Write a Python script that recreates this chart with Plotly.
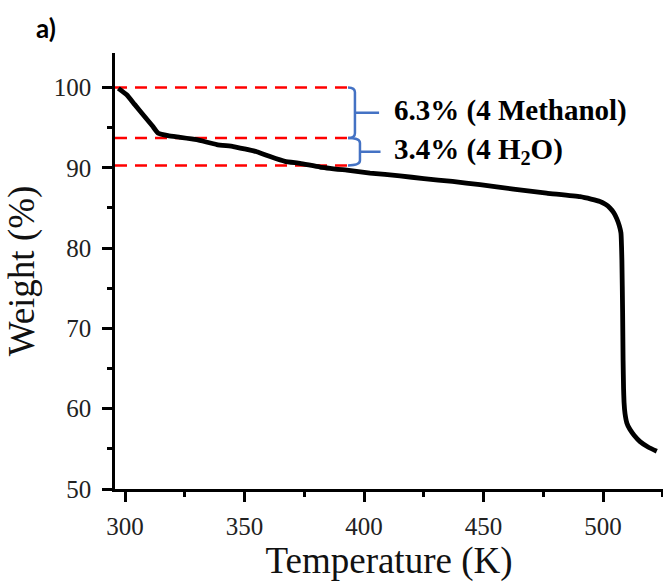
import plotly.graph_objects as go

# TGA curve: temperature (K) vs. remaining weight (%)
temperature = [297.2, 300.7, 304.0, 308.0, 311.5, 313.9, 318.0, 323.0, 330.0, 338.4,
               345.3, 350.0, 355.1, 360.7, 366.9, 373.2, 381.6, 392.8, 402.5, 415.0,
               425.0, 437.0, 448.5, 462.5, 476.4, 490.4, 495.0, 498.7, 501.0, 502.9,
               504.5, 505.7, 506.8, 507.5, 507.9, 508.2, 508.4, 508.6, 508.8, 509.2,
               510.0, 511.3, 513.0, 515.5, 519.0, 522.5]
weight = [99.9, 99.1, 97.9, 96.45, 95.2, 94.3, 94.0, 93.8, 93.5, 92.9,
          92.65, 92.35, 92.0, 91.4, 90.8, 90.55, 90.1, 89.7, 89.35, 89.0,
          88.65, 88.3, 87.9, 87.35, 86.85, 86.4, 86.1, 85.8, 85.45, 85.0,
          84.4, 83.7, 82.8, 81.9, 78.5, 72.0, 66.0, 62.5, 60.8, 59.4,
          58.2, 57.4, 56.7, 55.9, 55.2, 54.7]

# Weight-loss steps marked by dashed guide lines
step_levels = [100.0, 93.7, 90.3]
step_labels = ["6.3% (4 Methanol)", "3.4% (4 H<sub>2</sub>O)"]

x_tick_vals = [300, 350, 400, 450, 500]
y_tick_vals = [50, 60, 70, 80, 90, 100]

x_range = [295.8, 525.1]
y_range = [50.0, 104.3]

guide_end = 393.3
brace_x = [396.2, 398.3]
nib_end = [406.3, 406.9]
label_x = 411.7

SERIF = "Liberation Serif, Times New Roman, Times, serif"
SANS = "Lato, Open Sans, Liberation Sans, sans-serif"

fig = go.Figure()

# Dashed guide lines at each step level
for lv in step_levels:
    fig.add_trace(go.Scatter(
        x=[x_range[0], guide_end], y=[lv, lv], mode="lines",
        line=dict(color="#FF0000", width=2.5, dash="12px,8px"),
        hoverinfo="skip", showlegend=False))

# Main weight curve
fig.add_trace(go.Scatter(
    x=temperature, y=weight, mode="lines",
    line=dict(color="black", width=4.8, shape="spline", smoothing=0.4),
    showlegend=False))

# Brackets spanning each weight-loss step
shapes = []
ry = 0.6
for i in range(2):
    top, bot = step_levels[i], step_levels[i + 1]
    mid = (top + bot) / 2
    xv = brace_x[i]
    path = (f"M {guide_end},{top} Q {xv},{top} {xv},{top - ry} "
            f"L {xv},{bot + ry} Q {xv},{bot} {guide_end},{bot} "
            f"M {xv},{mid} L {nib_end[i]},{mid}")
    shapes.append(dict(type="path", xref="x", yref="y", path=path,
                       line=dict(color="#4472C4", width=2.5)))
    fig.add_annotation(x=label_x, y=mid + (0.25 if i == 0 else 0.1), xref="x", yref="y",
                       text=f"<b>{step_labels[i]}</b>", showarrow=False,
                       xanchor="left", yanchor="middle",
                       font=dict(family=SERIF, size=29, color="black"))

fig.add_annotation(x=-0.148, y=1.057, xref="paper", yref="paper", text="<b>a)</b>",
                   showarrow=False, xanchor="left", yanchor="middle",
                   font=dict(family=SANS, size=26, color="black"))

axis_common = dict(
    showline=True, linewidth=2.5, linecolor="black", mirror=False,
    showgrid=False, zeroline=False,
    ticks="outside", ticklen=10, tickwidth=2.5, tickcolor="black",
    tickfont=dict(family=SERIF, size=25, color="#222"),
)

fig.update_layout(
    width=663, height=585,
    margin=dict(l=115, r=0, t=53, b=96),
    paper_bgcolor="white", plot_bgcolor="white",
    font=dict(family=SERIF, color="black"),
    shapes=shapes,
    xaxis=dict(range=x_range, tickvals=x_tick_vals,
               minor=dict(tick0=300, dtick=25, ticks="outside", ticklen=5,
                          tickwidth=2.5, tickcolor="black"),
               title=dict(text="Temperature (K)", standoff=9,
                          font=dict(family=SERIF, size=37, color="#111")),
               ticklabelstandoff=3,
               **axis_common),
    yaxis=dict(range=y_range, tickvals=y_tick_vals,
               minor=dict(tick0=50, dtick=5, ticks="outside", ticklen=5,
                          tickwidth=2.5, tickcolor="black"),
               title=dict(text="Weight (%)", standoff=8,
                          font=dict(family=SERIF, size=37, color="#111")),
               ticklabelstandoff=6,
               **axis_common),
)

fig.write_html("out.html")
